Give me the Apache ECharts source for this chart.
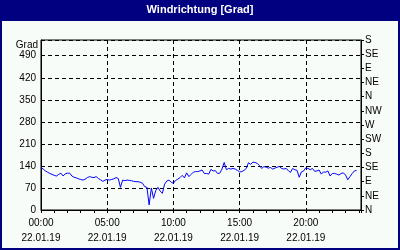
<!DOCTYPE html>
<html><head><meta charset="utf-8">
<script src="https://cdn.jsdelivr.net/npm/echarts/dist/echarts.min.js"></script>
<style>html,body{margin:0;padding:0;background:#f8fcf8}#c{width:400px;height:250px}</style>
</head><body><div id="c"></div>
<script>
const chartTitle = 'Windrichtung [Grad]';
const dateLabel = '22.01.19';
const yName = 'Grad';
const xTickLabels = ['00:00', '05:00', '10:00', '15:00', '20:00'];
const compassLabels = ['N','NE','E','SE','S','SW','W','NW','N','NE','E','SE','S'];
// sample times, minutes after midnight (10-minute readings)
const sampleMinutes = Array.from({length: 144}, (_, i) => i * 10);
// wind direction in degrees
const direction = [
  135,130,124,120,116,113,
  110,108,113,117,108,115,
  117,117,108,104,102,99,
  97,95,98,103,106,104,
  103,106,100,96,91,95,
  97,95,97,99,103,100,
  72,95,93,95,94,93,
  91,90,90,88,85,74,
  72,16,70,37,62,72,
  60,53,82,92,95,88,
  85,94,98,103,110,102,
  118,106,113,120,122,122,
  124,127,116,116,114,129,
  124,125,116,117,130,151,
  128,132,130,132,130,126,
  121,122,126,132,150,145,
  152,151,148,141,132,138,
  136,133,135,130,133,136,
  138,132,130,132,126,119,
  132,128,126,104,121,124,
  134,132,128,132,123,124,
  127,114,121,120,124,108,
  116,116,114,111,116,118,
  111,96,106,116,124,126
];

const font = 'Liberation Sans';
const chart = echarts.init(document.getElementById('c'), null, {renderer: 'canvas'});
chart.setOption({
  animation: false,
  backgroundColor: '#f8fcf8',
  title: {
    text: chartTitle, left: 'center', top: 4, padding: 0, z: 20,
    textStyle: {color: '#ffffff', fontWeight: 'bold', fontSize: 11, fontFamily: font}
  },
  graphic: [
    {type: 'rect', z: 10, shape: {x: 0, y: 0, width: 400, height: 21}, style: {fill: '#000080'}},
    {type: 'rect', z: 10, shape: {x: 1, y: 1, width: 398, height: 248}, style: {fill: 'none', stroke: '#000080', lineWidth: 2}}
  ],
  grid: {left: 41, right: 39, top: 40, bottom: 40, show: true, borderColor: '#000', borderWidth: 1, backgroundColor: '#f8fcf8'},
  xAxis: {
    type: 'value', min: 0, max: 1450, interval: 300,
    axisLine: {lineStyle: {color: '#000'}},
    axisTick: {show: true, length: 3, lineStyle: {color: '#000'}},
    minorTick: {show: true, splitNumber: 5, length: 3, lineStyle: {color: '#000'}},
    splitLine: {show: true, lineStyle: {color: '#000', type: [4, 3]}},
    axisLabel: {
      margin: 6, fontSize: 10, lineHeight: 15, color: '#000', fontFamily: font,
      showMaxLabel: false,
      formatter: v => (v % 300 === 0 && v / 300 < xTickLabels.length) ? xTickLabels[v / 300] + '\n' + dateLabel : ''
    }
  },
  yAxis: [
    {
      type: 'value', min: 0, max: 540, interval: 70, position: 'left',
      name: yName, nameLocation: 'end', nameGap: -5,
      nameTextStyle: {align: 'right', verticalAlign: 'middle', padding: [0, 3, 0, 0], fontSize: 10, color: '#000', fontFamily: font},
      axisLine: {show: true, lineStyle: {color: '#000'}},
      axisTick: {show: false},
      splitLine: {show: true, lineStyle: {color: '#000', type: [4, 3]}},
      axisLabel: {
        margin: 5, fontSize: 10, color: '#000', fontFamily: font, showMaxLabel: false,
        formatter: v => (v % 70 === 0) ? String(v) : ''
      }
    },
    {
      type: 'value', min: 0, max: 540, interval: 45, position: 'right',
      axisLine: {show: true, lineStyle: {color: '#000'}},
      axisTick: {show: true, length: 3, lineStyle: {color: '#000'}},
      splitLine: {show: false},
      axisLabel: {
        margin: 4, fontSize: 10, color: '#000', fontFamily: font,
        formatter: v => compassLabels[Math.round(v / 45)] || ''
      }
    }
  ],
  series: [{
    type: 'line', yAxisIndex: 0, showSymbol: false, symbol: 'none',
    lineStyle: {color: '#0000ff', width: 1},
    data: sampleMinutes.map((m, i) => [m, direction[i]])
  }]
});
</script></body></html>
